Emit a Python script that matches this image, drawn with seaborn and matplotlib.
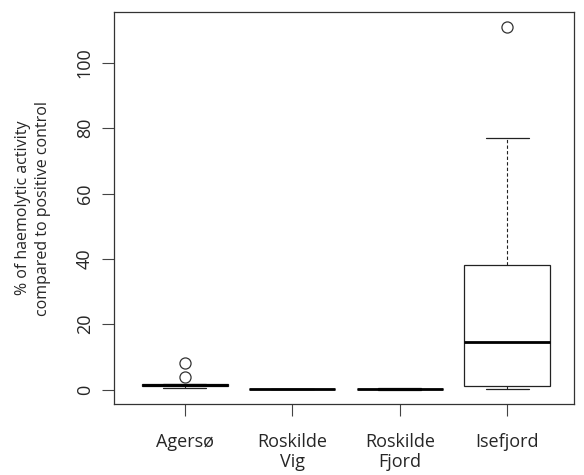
import matplotlib
matplotlib.use("Agg")
import matplotlib.pyplot as plt
import seaborn as sns
import pandas as pd

sites = ["Agersø", "Roskilde\nVig", "Roskilde\nFjord", "Isefjord"]
agerso = [0.6, 0.9, 1.0, 1.2, 1.4, 1.6, 1.8, 3.8, 8.0]
roskilde_vig = [0.05, 0.08, 0.1, 0.12, 0.15]
roskilde_fjord = [0.0, 0.05, 0.1, 0.15, 0.2, 0.25, 0.3, 0.3, 0.35]
isefjord = [0.3, 0.8, 1.2, 8.0, 14.4, 30.0, 38.0, 77.0, 111.0]
yticks = [0, 20, 40, 60, 80, 100]

rows = []
for site, vals in zip(sites, [agerso, roskilde_vig, roskilde_fjord, isefjord]):
    for v in vals:
        rows.append({"site": site, "value": v})
df = pd.DataFrame(rows)

sns.set_style("white")
plt.rcParams['font.family'] = ['Open Sans', 'DejaVu Sans']

fig = plt.figure(figsize=(5.84, 4.75), dpi=100)
ax = fig.add_axes([0.195, 0.149, 0.788, 0.826])

sns.boxplot(data=df, x="site", y="value", order=sites, ax=ax,
            color="white", linecolor="#222222", linewidth=0.9, width=0.8, whis=1.5,
            medianprops=dict(linewidth=2, color="black"),
            whiskerprops=dict(linestyle=(0, (3, 2)), linewidth=0.8),
            flierprops=dict(marker="o", markersize=8, markerfacecolor="none",
                            markeredgecolor="#333333", markeredgewidth=0.9))

ax.set_ylim(-4.5, 115.6)
ax.set_xlim(-0.66, 3.62)
ax.set_yticks(yticks)
ax.set_yticklabels([str(t) for t in yticks], rotation=90, va="center")
ax.set_xlabel("")
ax.set_ylabel("% of haemolytic activity\ncompared to positive control", fontsize=11.5,
              labelpad=18, linespacing=1.3)
ax.tick_params(axis="both", direction="out", length=8.5, width=0.8, color="#444444",
               labelsize=13, left=True, bottom=True)
ax.tick_params(axis="x", pad=12)
ax.tick_params(axis="y", pad=6)
for s in ax.spines.values():
    s.set_visible(True)
    s.set_color("#333333")
    s.set_linewidth(0.9)

fig.savefig("out.png", dpi=100)
